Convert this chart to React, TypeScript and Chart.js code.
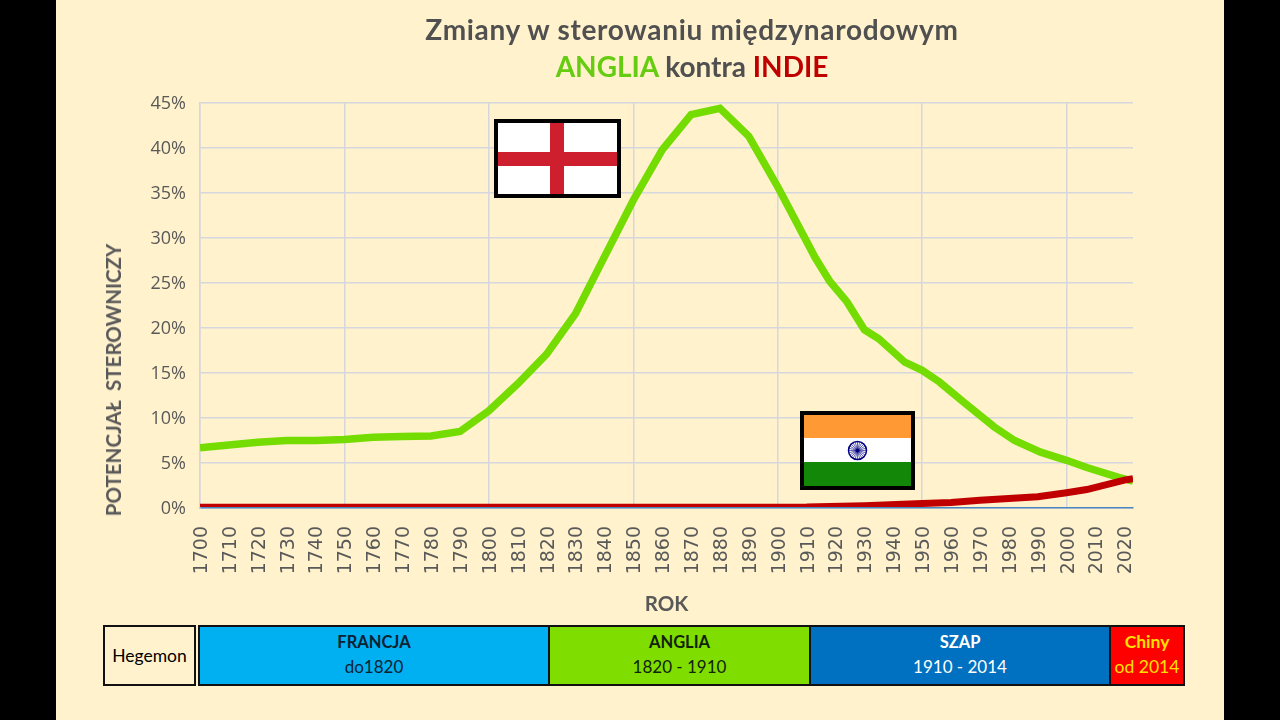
import React, { useEffect, useRef } from "react";
import { Chart, registerables } from "chart.js";

Chart.register(...registerables);

const angliaYears = [1700, 1710, 1720, 1730, 1740, 1750, 1760, 1770, 1780, 1790, 1800, 1810, 1820, 1830, 1840, 1850, 1860, 1870, 1880, 1890, 1900, 1913, 1918, 1924, 1930, 1935, 1944, 1950, 1956, 1965, 1975, 1982, 1991, 2000, 2007, 2018, 2023];
const angliaValues = [6.7, 7.0, 7.3, 7.5, 7.5, 7.6, 7.85, 7.95, 8.0, 8.5, 10.8, 13.8, 17.1, 21.6, 27.9, 34.2, 39.8, 43.7, 44.4, 41.3, 35.7, 27.8, 25.2, 22.9, 19.8, 18.8, 16.2, 15.3, 14.0, 11.6, 9.0, 7.5, 6.2, 5.3, 4.5, 3.4, 3.0];
const indieYears = [1700, 1800, 1910, 1930, 1950, 1960, 1970, 1980, 1990, 2000, 2007, 2020, 2023];
const indieValues = [0.08, 0.08, 0.1, 0.25, 0.5, 0.6, 0.85, 1.05, 1.25, 1.7, 2.05, 3.1, 3.25];
const titleLine1 = "Zmiany w sterowaniu międzynarodowym";
const yAxisLabel = "POTENCJAŁ  STEROWNICZY";
const xAxisLabel = "ROK";
const hegemonLabel = "Hegemon";
const hegemonNames = ["FRANCJA", "ANGLIA", "SZAP", "Chiny"];
const hegemonPeriods = ["do1820", "1820 - 1910", "1910 - 2014", "od 2014"];
const hegemonColors = ["#00B0F0", "#7FDD00", "#0070C0", "#FF0000"];
const hegemonText = ["#0B2233", "#10240A", "#FFFFFF", "#FFE000"];
const hegemonLeft = [198, 548, 809, 1109];
const hegemonRight = [550, 811, 1111, 1185];

const GRID = "#D6D6DE";
const BG = "#FFF2CC";
const TEXT_FONT = "Lato, 'Open Sans', sans-serif";

const abs = (left: number, top: number, width: number, height: number): React.CSSProperties => ({
  position: "absolute", left, top, width, height, boxSizing: "border-box",
});

function EnglandFlag() {
  return (
    <div style={{ ...abs(494, 119, 127, 79), background: "#fff", border: "4px solid #000" }}>
      <div style={{ ...abs(52, 0, 14, 71), background: "#CE1F2F" }} />
      <div style={{ ...abs(0, 29, 119, 14), background: "#CE1F2F" }} />
    </div>
  );
}

function IndiaFlag() {
  const spokes = Array.from({ length: 24 }, (_, i) => (i * Math.PI) / 12);
  return (
    <div style={{ ...abs(800, 411, 115, 79), background: "#fff", border: "4px solid #000" }}>
      <div style={{ ...abs(0, 0, 107, 23), background: "#FF9933" }} />
      <div style={{ ...abs(0, 47, 107, 24), background: "#138808" }} />
      <svg style={{ position: "absolute", left: 43.2, top: 24.5 }} width="21" height="21" viewBox="-10.5 -10.5 21 21">
        <circle r="9" fill="none" stroke="#000080" strokeWidth="1.5" />
        {spokes.map((a, i) => (
          <line key={i} x1={0} y1={0} x2={8.5 * Math.cos(a)} y2={8.5 * Math.sin(a)} stroke="#000080" strokeWidth="0.6" />
        ))}
        <circle r="2" fill="#000080" />
      </svg>
    </div>
  );
}

export default function App() {
  const ref = useRef<HTMLCanvasElement | null>(null);
  useEffect(() => {
    if (!ref.current) return;
    const chart = new Chart(ref.current, {
      type: "line",
      data: {
        datasets: [
          {
            label: "INDIE",
            data: indieYears.map((x, i) => ({ x, y: indieValues[i] })),
            borderColor: "#C00000",
            borderWidth: 7,
            pointRadius: 0,
            tension: 0,
            order: 0,
            clip: { left: 0, right: 0, top: 0, bottom: -1 },
          },
          {
            label: "ANGLIA",
            data: angliaYears.map((x, i) => ({ x, y: angliaValues[i] })),
            borderColor: "#74DC00",
            borderWidth: 7.5,
            pointRadius: 0,
            tension: 0,
            order: 1,
            clip: { left: 0, right: 0, top: 0, bottom: -1 },
          },
        ],
      },
      options: {
        animation: false,
        responsive: false,
        layout: { padding: { left: 100, right: 147, top: 103, bottom: 103 } },
        plugins: { legend: { display: false }, title: { display: false }, tooltip: { enabled: false } },
        scales: {
          x: {
            type: "linear",
            min: 1700,
            max: 2023,
            afterFit: (s: any) => { s.height = 109; },
            border: { color: "#4A86C0", width: 1.5 },
            grid: {
              drawTicks: false,
              lineWidth: 1.5,
              color: (c: any) => (c.tick && c.tick.value % 50 === 0 ? GRID : "transparent"),
            },
            ticks: {
              stepSize: 10,
              includeBounds: false,
              autoSkip: false,
              maxRotation: 90,
              minRotation: 90,
              padding: 18,
              labelOffset: 2,
              color: "#595959",
              font: { family: "'DejaVu Sans'", size: 19 },
              callback: (v: any) => String(v),
            },
            title: {
              display: true,
              text: xAxisLabel,
              color: "#595959",
              padding: 0,
              font: { family: TEXT_FONT, size: 20.5, weight: "bold" },
            },
          },
          y: {
            min: 0,
            max: 45,
            afterFit: (s: any) => { s.width = 100; },
            border: { color: GRID, width: 1.5 },
            grid: { drawTicks: false, lineWidth: 1.5, color: GRID },
            ticks: {
              stepSize: 5,
              padding: 14,
              labelOffset: 1,
              color: "#595959",
              font: { family: "'Open Sans'", size: 18 },
              callback: (v: any) => v + "%",
            },
          },
        },
      },
    } as any);
    return () => chart.destroy();
  }, []);

  return (
    <div style={{ position: "fixed", left: 0, top: 0, width: 1280, height: 720, overflow: "hidden", background: BG, fontFamily: TEXT_FONT }}>
      <canvas ref={ref} width={1280} height={720} style={{ position: "absolute", left: 0, top: 0, width: 1280, height: 720 }} />
      <div style={{ ...abs(0, 0, 56, 720), background: "#000" }} />
      <div style={{ ...abs(1224, 0, 56, 720), background: "#000" }} />

      <div style={{ ...abs(292, 11, 800, 36), textAlign: "center", font: `bold 28px/36px ${TEXT_FONT}`, letterSpacing: 0.7, color: "#505050", whiteSpace: "nowrap" }}>{titleLine1}</div>
      <div style={{ ...abs(292, 48, 800, 36), textAlign: "center", font: `bold 28px/36px ${TEXT_FONT}`, color: "#505050", whiteSpace: "nowrap" }}>
        <span style={{ color: "#66CC11" }}>ANGLIA</span> kontra <span style={{ color: "#C00000" }}>INDIE</span>
      </div>

      <div style={{ position: "absolute", left: 113, top: 380, transform: "translate(-50%, -50%) rotate(-90deg)", font: `bold 20.5px/24px ${TEXT_FONT}`, color: "#595959", whiteSpace: "pre" }}>{yAxisLabel}</div>

      <EnglandFlag />
      <IndiaFlag />

      <div style={{ ...abs(103, 625, 93, 61), background: BG, border: "2px solid #111", display: "flex", alignItems: "center", justifyContent: "center", font: `17.5px ${TEXT_FONT}`, color: "#000" }}>{hegemonLabel}</div>
      {hegemonNames.map((name, i) => (
        <div key={name} style={{ ...abs(hegemonLeft[i], 625, hegemonRight[i] - hegemonLeft[i], 61), background: hegemonColors[i], border: "2px solid #111", color: hegemonText[i], textAlign: "center", whiteSpace: "nowrap" }}>
          <div style={{ font: `bold ${i === 3 ? 17.5 : 16.5}px/20px ${TEXT_FONT}`, marginTop: 5 }}>{name}</div>
          <div style={{ font: `${i === 3 ? 17.5 : 17}px/20px ${TEXT_FONT}`, marginTop: 5 }}>{hegemonPeriods[i]}</div>
        </div>
      ))}
    </div>
  );
}
